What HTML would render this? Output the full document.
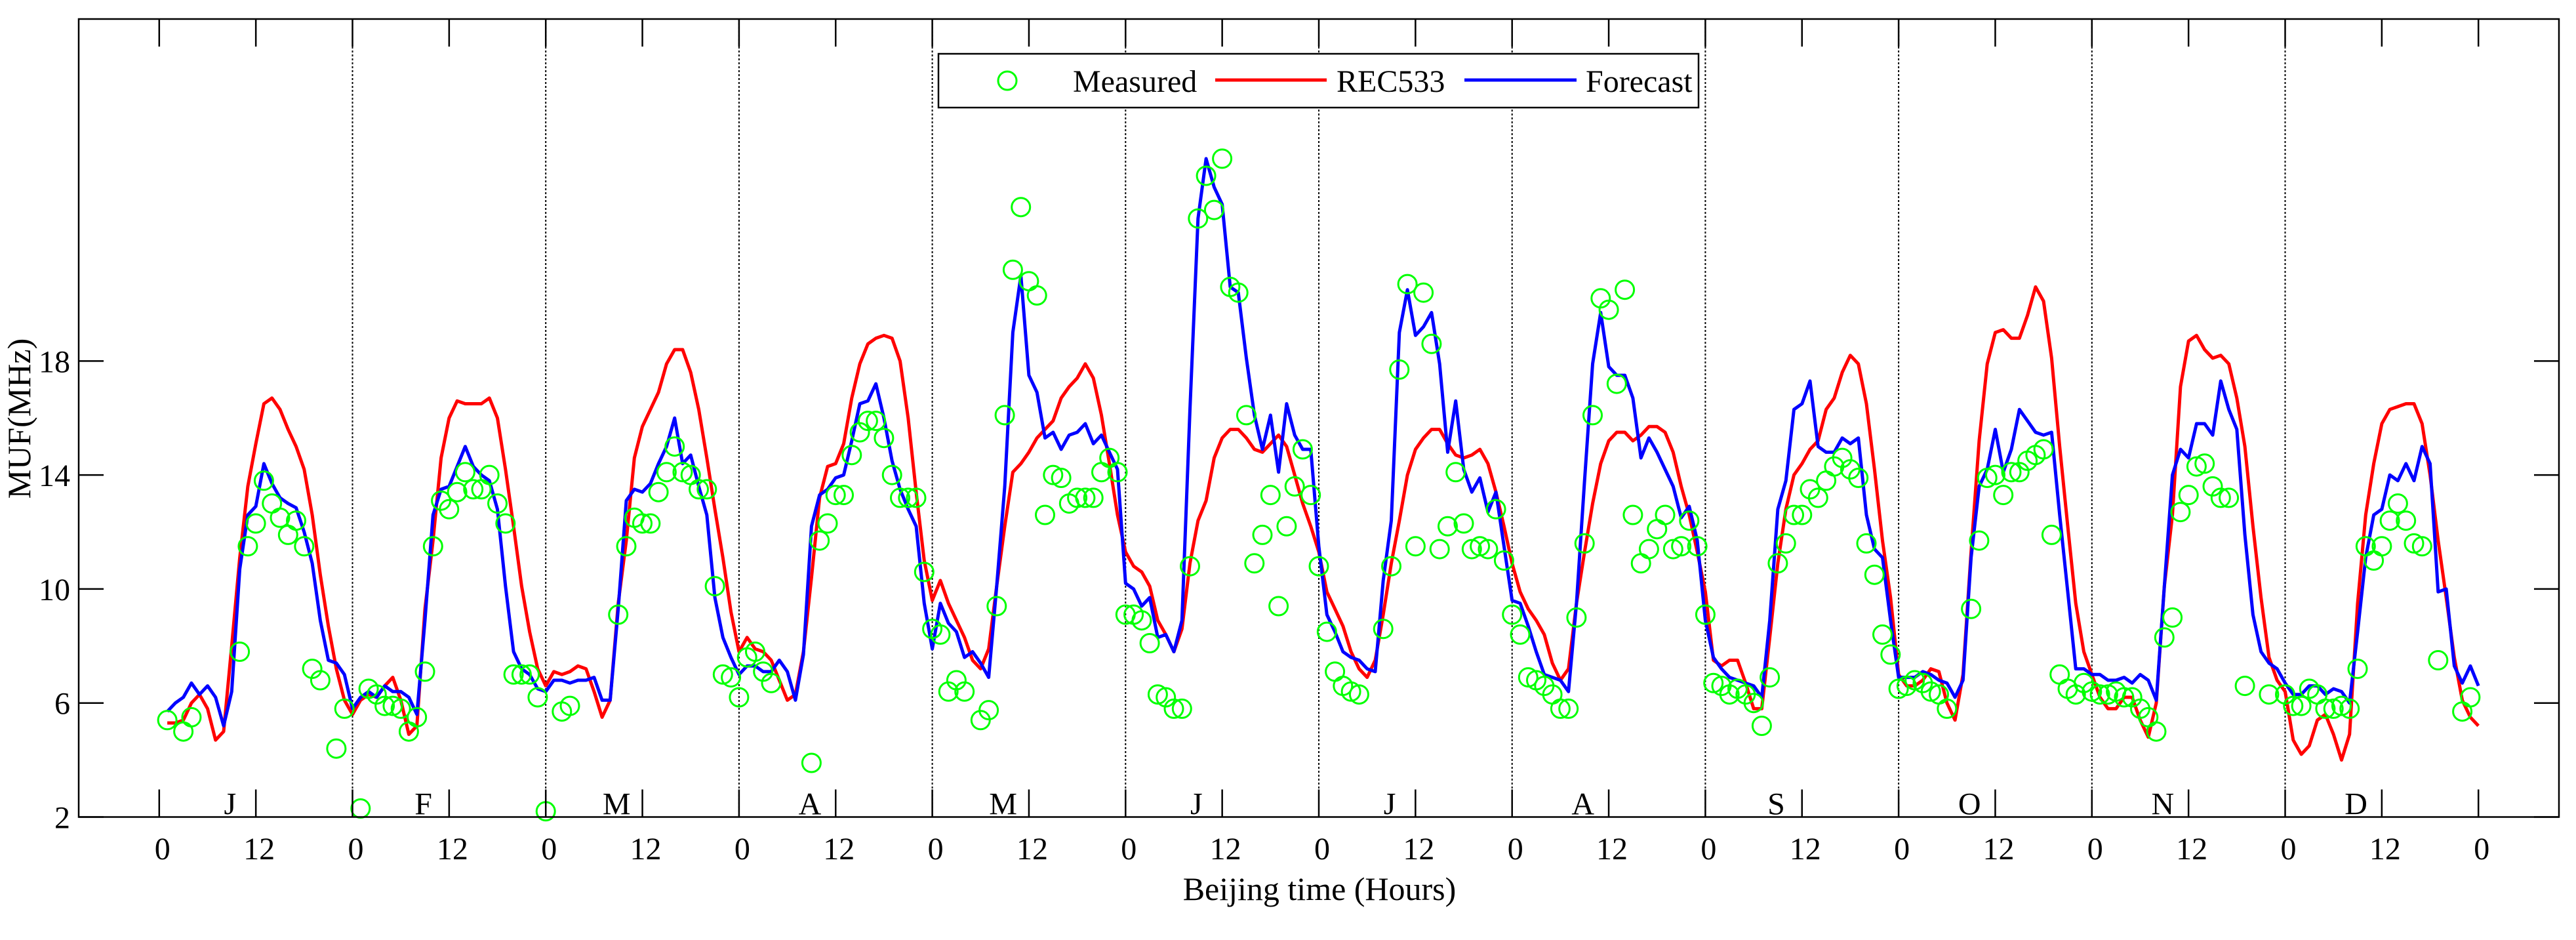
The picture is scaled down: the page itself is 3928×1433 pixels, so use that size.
<!DOCTYPE html>
<html><head><meta charset="utf-8"><style>
html,body{margin:0;padding:0;background:#fff;}
svg{display:block;}
text{font-family:"Liberation Serif",serif;fill:#000;}
</style></head><body>
<svg id="chart" width="3928" height="1433" viewBox="0 0 3928 1433" xmlns="http://www.w3.org/2000/svg">
<rect x="0" y="0" width="3928" height="1433" fill="#fff"/>
<g id="grid"></g>
<g id="series"></g>
<g id="axes"></g>
<g id="legend">
<rect x="1431" y="82" width="1159" height="82" fill="#fff" stroke="#000" stroke-width="2.5"/>
<circle cx="1536" cy="123" r="14" fill="none" stroke="#00ff00" stroke-width="3"/>
<text x="1636" y="140" font-size="48">Measured</text>
<line x1="1853" y1="122" x2="2023" y2="122" stroke="#ff0000" stroke-width="5"/>
<text x="2038" y="140" font-size="48">REC533</text>
<line x1="2233" y1="122" x2="2404" y2="122" stroke="#0000ff" stroke-width="5"/>
<text x="2418" y="140" font-size="48">Forecast</text>
</g>
<text x="0" y="0" font-size="50" text-anchor="middle" transform="translate(46,638) rotate(-90)">MUF(MHz)</text>
<text x="2012" y="1372" font-size="50" text-anchor="middle">Beijing time (Hours)</text>
</svg>
<script>
const monthLabels = ['J','F','M','A','M','J','J','A','S','O','N','D'];
const yTicks = [2,6,10,14,18];
const xTickLabels = ['0','12'];
const hoursPerMonth = 24;
// REC533 hourly values (h=1..24 for each month)
const rec533 = [
5.3,5.3,5.4,6.0,6.3,5.8,4.7,5.0,8.0,11.1,13.6,15.1,16.5,16.7,16.3,15.6,15.0,14.2,12.6,10.5,8.7,7.2,6.1,5.6,
6.1,6.3,6.2,6.6,6.9,6.1,4.9,5.2,9.3,11.7,14.6,16.0,16.6,16.5,16.5,16.5,16.7,16.0,14.2,12.2,10.1,8.5,7.2,6.6,
7.1,7.0,7.1,7.3,7.2,6.4,5.5,6.1,9.5,11.7,14.6,15.7,16.3,16.9,17.9,18.4,18.4,17.6,16.3,14.6,12.8,11.1,9.2,7.8,
8.3,7.9,7.8,7.5,6.8,6.1,6.3,7.8,10.4,13.2,14.3,14.4,15.1,16.7,17.9,18.6,18.8,18.9,18.8,18.0,16.0,13.4,11.0,9.6,
10.3,9.5,8.9,8.3,7.5,7.2,7.9,10.1,12.2,14.1,14.4,14.8,15.3,15.6,15.9,16.7,17.1,17.4,17.9,17.4,16.1,14.4,12.6,11.3,
10.8,10.6,10.1,8.9,8.4,7.8,8.6,10.9,12.4,13.1,14.6,15.3,15.6,15.6,15.3,14.9,14.8,15.1,15.4,15.0,14.0,13.0,12.2,11.3,
9.9,9.3,8.7,7.8,7.2,6.9,7.5,9.1,10.9,12.4,14.0,14.9,15.3,15.6,15.6,15.1,14.7,14.6,14.7,14.9,14.4,13.4,12.2,10.9,
9.9,9.3,8.9,8.4,7.4,6.8,7.2,9.5,11.3,13.0,14.4,15.2,15.5,15.5,15.2,15.4,15.7,15.7,15.5,14.8,13.6,12.6,11.3,9.9,
7.5,7.3,7.5,7.5,6.7,5.8,5.8,8.3,10.9,12.8,14.0,14.4,14.9,15.2,16.3,16.7,17.6,18.2,17.9,16.5,14.2,11.7,9.7,7.0,
6.6,6.6,6.8,7.2,7.1,6.0,5.4,7.0,11.3,15.2,17.9,19.0,19.1,18.8,18.8,19.6,20.6,20.1,18.1,15.0,12.2,9.5,7.8,7.0,
6.2,5.8,5.8,6.2,6.2,5.4,4.8,6.0,10.1,12.6,17.1,18.7,18.9,18.4,18.1,18.2,17.9,16.7,15.0,12.2,9.7,7.6,6.8,6.4,
4.7,4.2,4.5,5.4,5.6,4.9,4.0,4.9,9.5,12.6,14.4,15.8,16.3,16.4,16.5,16.5,15.8,14.0,11.7,9.7,7.6,6.1,5.5,5.2
];
// Forecast hourly values
const forecast = [
5.7,6.0,6.2,6.7,6.3,6.6,6.2,5.2,6.4,10.7,12.6,12.9,14.4,13.7,13.2,13.0,12.85,12.0,10.9,8.9,7.5,7.4,7.0,5.8,
6.2,6.4,6.2,6.6,6.4,6.4,6.2,5.6,8.9,12.6,13.5,13.6,14.3,15.0,14.3,14.0,13.8,12.8,10.1,7.8,7.2,7.0,6.5,6.4,
6.8,6.8,6.7,6.8,6.8,6.9,6.1,6.1,9.3,13.1,13.5,13.4,13.7,14.4,15.0,16.0,14.4,14.7,13.6,12.6,9.7,8.3,7.6,7.0,
7.3,7.3,7.1,7.1,7.5,7.1,6.1,7.7,12.2,13.3,13.5,13.9,14.0,15.2,16.5,16.6,17.2,16.0,14.5,13.5,12.8,12.2,9.5,7.9,
9.5,8.8,8.5,7.6,7.8,7.4,6.9,10.1,13.6,19.0,21.0,17.5,16.9,15.3,15.5,14.9,15.4,15.5,15.8,15.1,15.4,14.8,14.2,10.2,
10.0,9.4,9.7,8.3,8.4,7.8,8.9,16.3,23.0,25.1,24.1,23.5,20.6,20.4,18.1,16.1,14.9,16.1,14.1,16.5,15.4,14.9,14.9,11.5,
9.1,8.5,7.8,7.6,7.5,7.2,7.1,10.3,12.4,19.0,20.5,18.9,19.2,19.7,17.9,14.8,16.6,14.2,13.4,13.9,12.7,13.4,11.5,9.6,
9.5,8.7,7.8,7.0,6.9,6.8,6.4,9.5,13.8,17.9,19.7,17.8,17.5,17.5,16.7,14.6,15.3,14.8,14.2,13.6,12.5,12.9,11.7,8.9,
7.6,7.2,6.9,6.8,6.7,6.6,6.2,8.9,12.8,13.8,16.3,16.5,17.3,15.0,14.8,14.8,15.3,15.1,15.3,12.6,11.4,11.1,8.9,6.9,
6.9,6.9,7.1,7.0,6.8,6.7,6.2,6.8,11.1,13.6,14.2,15.6,14.1,14.9,16.3,15.9,15.5,15.4,15.5,12.6,9.9,7.2,7.2,7.0,
7.0,6.8,6.8,6.9,6.7,7.0,6.8,6.1,10.1,14.0,14.9,14.6,15.8,15.8,15.4,17.3,16.3,15.6,11.9,9.1,7.8,7.4,7.2,6.7,
6.3,6.3,6.6,6.6,6.3,6.5,6.4,6.0,8.5,11.1,12.6,12.8,14.0,13.8,14.4,13.8,15.0,14.4,9.9,10.0,7.3,6.7,7.3,6.6
];
// Measured hourly values (null = missing)
const measured = [
5.4,null,5.0,5.5,null,null,null,null,null,7.8,11.5,12.3,13.8,13.0,12.5,11.9,12.4,11.5,7.2,6.8,null,4.4,5.8,null,
2.3,6.5,6.3,5.9,5.9,5.8,5.0,5.5,7.1,11.5,13.1,12.8,13.4,14.1,13.5,13.5,14.0,13.0,12.3,7.0,7.0,7.0,6.2,2.2,
null,5.7,5.9,null,null,null,null,null,9.1,11.5,12.5,12.3,12.3,13.4,14.1,15.0,14.1,14.0,13.5,13.5,10.1,7.0,6.9,6.2,
7.6,7.8,7.1,6.7,null,null,null,null,3.9,11.7,12.3,13.3,13.3,14.7,15.5,15.9,15.9,15.3,14.0,13.2,13.2,13.2,10.6,8.6,
8.4,6.4,6.8,6.4,null,5.4,5.75,9.4,16.1,21.2,23.4,20.8,20.3,12.6,14.0,13.9,13.0,13.2,13.2,13.2,14.1,14.6,14.1,9.1,
9.1,8.9,8.1,6.3,6.2,5.8,5.8,10.8,23.0,24.5,23.3,25.1,20.6,20.4,16.1,10.9,11.9,13.3,9.4,12.2,13.6,14.9,13.3,10.8,
8.5,7.1,6.6,6.4,6.3,null,null,8.6,10.8,17.7,20.7,11.5,20.4,18.6,11.4,12.2,14.1,12.3,11.4,11.5,11.4,12.8,11.0,9.1,
8.4,6.9,6.8,6.6,6.3,5.8,5.8,9.0,11.6,16.1,20.2,19.8,17.2,20.5,12.6,10.9,11.4,12.1,12.6,11.4,11.5,12.4,11.5,9.1,
6.7,6.6,6.3,6.5,6.3,6.0,5.2,6.9,10.9,11.6,12.6,12.6,13.5,13.2,13.8,14.3,14.6,14.2,13.9,11.6,10.5,8.4,7.7,6.5,
6.6,6.8,6.7,6.4,6.3,5.8,null,null,9.3,11.7,13.9,14.0,13.3,14.1,14.1,14.5,14.7,14.9,11.9,7.0,6.5,6.3,6.7,6.4,
6.3,6.3,6.4,6.2,6.2,5.8,5.5,5.0,8.3,9.0,12.7,13.3,14.3,14.4,13.6,13.2,13.2,null,6.6,null,null,6.3,null,6.3,
5.9,5.9,6.5,6.3,5.8,5.8,5.9,5.8,7.2,11.5,11.0,11.5,12.4,13.0,12.4,11.6,11.5,null,7.5,null,null,5.7,6.2,null
];

const NS = 'http://www.w3.org/2000/svg';
const PL = 120, PR = 3902, PT = 29, PB = 1245.5;
const X0 = -10, X1 = 298, Y0 = 2, Y1 = 30;
function xs(t){ return PL + (t - X0) / (X1 - X0) * (PR - PL); }
function ys(v){ return PB - (v - Y0) / (Y1 - Y0) * (PB - PT); }
function mk(tag, attrs, parent){
  const e = document.createElementNS(NS, tag);
  for (const k in attrs) e.setAttribute(k, attrs[k]);
  parent.appendChild(e);
  return e;
}
const grid = document.getElementById('grid');
const series = document.getElementById('series');
const axes = document.getElementById('axes');

// month separators
for (let m = 1; m < monthLabels.length; m++) {
  const x = xs(m * hoursPerMonth);
  const l = mk('line', {x1:x, y1:PT, x2:x, y2:PB, stroke:'#000', 'stroke-width':2, 'stroke-dasharray':'3,3'}, grid);
  
  
}

// series lines
function hourOf(i){ return i + 1; }
function linePath(arr){
  let d = '';
  arr.forEach((v, i) => { if (v !== null) d += (d ? 'L' : 'M') + xs(hourOf(i)).toFixed(1) + ',' + ys(v).toFixed(1); });
  return d;
}
const recPath = mk('path', {d:linePath(rec533), fill:'none', stroke:'#ff0000', 'stroke-width':5, 'stroke-linejoin':'round'}, series);


const fcPath = mk('path', {d:linePath(forecast), fill:'none', stroke:'#0000ff', 'stroke-width':5, 'stroke-linejoin':'round'}, series);


measured.forEach((v, i) => {
  if (v === null) return;
  const c = mk('circle', {cx:xs(hourOf(i)).toFixed(1), cy:ys(v).toFixed(1), r:14, fill:'none', stroke:'#00ff00', 'stroke-width':3}, series);
  
  
});

// axes frame
const frame = mk('rect', {x:PL, y:PT, width:PR-PL, height:PB-PT, fill:'none', stroke:'#000', 'stroke-width':2.5}, axes);



// x ticks
for (let k = 0; k <= monthLabels.length * 2; k++) {
  const t = k * 12;
  const x = xs(t);
  const tb = mk('line', {x1:x, y1:PB, x2:x, y2:PB-42, stroke:'#000', 'stroke-width':2.5}, axes);
  
  
  const tt = mk('line', {x1:x, y1:PT, x2:x, y2:PT+42, stroke:'#000', 'stroke-width':2.5}, axes);
  
  
  const lb = mk('text', {x:x+5, y:1310, 'font-size':48, 'text-anchor':'middle'}, axes);
  lb.textContent = xTickLabels[k % 2];
  
  
}
// month letters
monthLabels.forEach((m, i) => {
  const t = mk('text', {x:xs(i * hoursPerMonth + 8.8), y:PB - 4, 'font-size':48, 'text-anchor':'middle'}, axes);
  t.textContent = m;
  
  
});
// y ticks
yTicks.forEach(v => {
  const y = ys(v);
  const a = mk('line', {x1:PL, y1:y, x2:PL+38, y2:y, stroke:'#000', 'stroke-width':2.5}, axes);
  
  
  const b = mk('line', {x1:PR, y1:y, x2:PR-38, y2:y, stroke:'#000', 'stroke-width':2.5}, axes);
  
  
  const lb = mk('text', {x:107, y:y+17, 'font-size':48, 'text-anchor':'end'}, axes);
  lb.textContent = String(v);
  
  
});
// bring legend to front
const svg = document.getElementById('chart');
svg.appendChild(document.getElementById('legend'));
</script>
</body></html>
